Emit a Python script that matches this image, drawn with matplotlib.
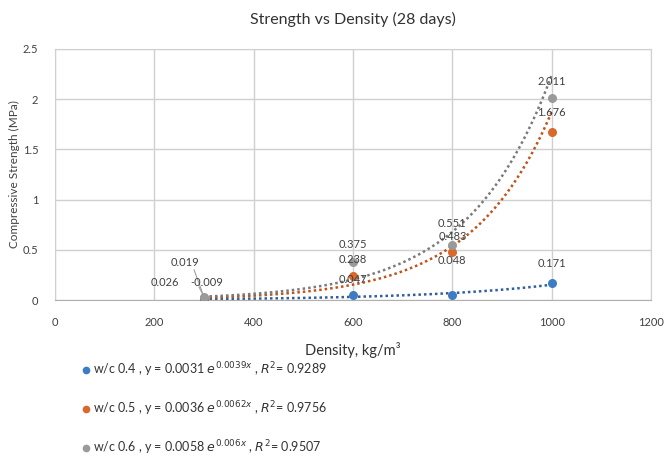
import numpy as np
import matplotlib.pyplot as plt
from matplotlib.lines import Line2D

plt.rcParams['font.family'] = ['Lato', 'DejaVu Sans']
plt.rcParams['mathtext.fontset'] = 'dejavusans'

# dane
density = [300, 600, 800, 1000]
wc04 = [0.009, 0.047, 0.048, 0.171]
wc05 = [0.019, 0.238, 0.483, 1.676]
wc06 = [0.026, 0.375, 0.551, 2.011]
series_names = ["w/c 0.4", "w/c 0.5", "w/c 0.6"]
equations = [r"y = 0.0031 $e^{0.0039x}$ , $R^2$= 0.9289",
             r"y = 0.0036 $e^{0.0062x}$ , $R^2$= 0.9756",
             r"y = 0.0058 $e^{0.006x}$ , $R^2$= 0.9507"]
point_colors = ["#3d7cc4", "#d9682a", "#9a9a9a"]
trend_colors = ["#2f5f9e", "#c0521a", "#7a7a7a"]

fig = plt.figure(figsize=(6.67, 4.61), dpi=100)
ax = fig.add_axes([0.0825, 0.349, 0.8935, 0.545])

data = [wc04, wc05, wc06]
for i, y in enumerate(data):
    # linia trendu wykladnicza (jak w Excelu: dopasowanie ln(y))
    b, a = np.polyfit(density, np.log(y), 1)
    xs = np.linspace(min(density), max(density), 200)
    ax.plot(xs, np.exp(a) * np.exp(b * xs), linestyle=(0, (1, 1.2)),
            color=trend_colors[i], lw=1.8, zorder=2)
    ax.scatter(density, y, s=30, color=point_colors[i], zorder=3)

# etykiety danych (pozycje y etykiet)
label_y = {600: [0.21, 0.40, 0.55], 800: [0.39, 0.63, 0.76], 1000: [0.36, 1.87, 2.18]}
lab_kw = dict(fontsize=8, color="#404040", ha="center", va="center", zorder=4)
for i, y in enumerate(data):
    for xv, yv in zip(density[1:], y[1:]):
        ax.text(xv, label_y[xv][i], "%.3f" % yv, **lab_kw)

# etykiety przy 300 z liniami odniesienia
ax.text(262, 0.37, "%.3f" % wc05[0], **lab_kw)
ax.text(222, 0.18, "%.3f" % wc06[0], **lab_kw)
ax.text(272, 0.18, "-%.3f" % wc04[0], fontsize=8, color="#404040", ha="left", va="center", zorder=4)
ax.plot([300, 280], [0.03, 0.30], color="#a0a0a0", lw=0.8, zorder=1)
ax.plot([300, 290], [0.03, 0.13], color="#a0a0a0", lw=0.8, zorder=1)

ax.set_xlim(0, 1200)
ax.set_ylim(0, 2.5)
ax.set_xticks(np.arange(0, 1201, 200))
ax.set_yticks(np.arange(0, 2.51, 0.5))
ax.set_yticklabels(["0", "0.5", "1", "1.5", "2", "2.5"])
ax.grid(True, color="#d0d0d0", lw=1)
ax.set_axisbelow(True)
for s in ax.spines.values():
    s.set_color("#d0d0d0")
ax.spines["bottom"].set_color("#b0b0b0")
ax.tick_params(length=0, labelsize=8, labelcolor="#404040")
ax.tick_params(axis="x", pad=12)
ax.tick_params(axis="y", pad=12)

ax.set_title("Strength vs Density (28 days)", fontsize=11.5, color="#333333", pad=18)
ax.set_xlabel("Density, kg/m³", fontsize=10.5, color="#333333", labelpad=10)
ax.set_ylabel("Compressive Strength (MPa)", fontsize=8.5, color="#404040", labelpad=2)

handles = [Line2D([], [], marker="o", ls="none", color=c, markersize=4.5) for c in point_colors]
labels = [n + " , " + e for n, e in zip(series_names, equations)]
fig.legend(handles, labels, loc="upper left", bbox_to_anchor=(0.112, 0.232), frameon=False,
           fontsize=9, labelspacing=1.65, handletextpad=0.2, handlelength=0.8,
           labelcolor="#333333", borderpad=0)

fig.savefig("out.png", dpi=100)
